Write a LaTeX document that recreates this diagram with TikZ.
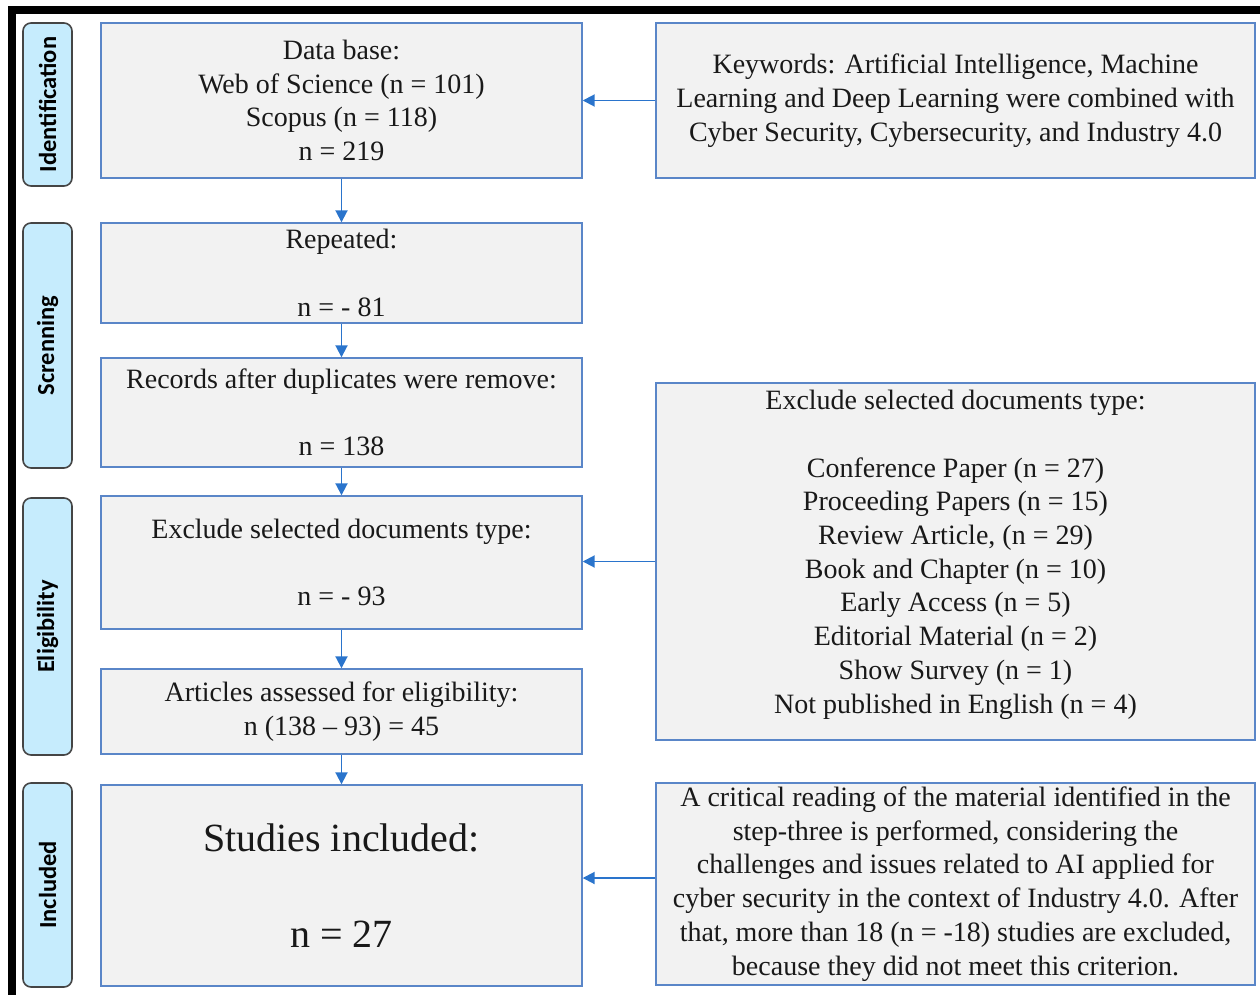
\documentclass[tikz,border=0pt]{standalone}
\usepackage{fontspec}
\setmainfont{Liberation Serif}
\newfontfamily\sidefont{Carlito}
\usetikzlibrary{arrows.meta,calc}
\definecolor{boxfill}{HTML}{F2F2F2}
\definecolor{boxline}{HTML}{5A86C8}
\definecolor{arrowblue}{HTML}{2A74CC}
\definecolor{sidefill}{HTML}{C6ECFD}
\definecolor{sideline}{HTML}{454545}
\tikzset{
  x=1pt, y=-1pt,
  box/.style={draw=boxline, fill=boxfill, line width=1.4pt, align=center, inner sep=0pt,
    font=\fontsize{28}{33.7}\selectfont, text=black!90},
  side/.style={draw=sideline, fill=sidefill, line width=1.6pt, rounded corners=8pt,
    minimum width=49pt, inner sep=0pt},
  sidetext/.style={font=\sidefont\bfseries\fontsize{24.5}{26}\selectfont, rotate=90},
  flow/.style={draw=arrowblue, line width=1.9pt, -{Triangle[length=12pt,width=12pt]}},
}
\begin{document}
\begin{tikzpicture}
\useasboundingbox (0,0) rectangle (1260,995);
% black frame (top and left)
\fill[black] (8,6) rectangle (1260,14);
\fill[black] (8,6) rectangle (16,995);

% side labels
\node[side, minimum height=163pt] (sid) at (47.5,104.5) {};
\node[sidetext] (sidt) at (sid) {Identification};
\node[side, minimum height=245pt] (sscr) at (47.5,345.5) {};
\node[sidetext] (sscrt) at (sscr) {Screnning};
\node[side, minimum height=257pt] (seli) at (47.5,626.5) {};
\node[sidetext] (selit) at (seli) {Eligibility};
\node[side, minimum height=204pt] (sinc) at (47.5,885) {};
\node[sidetext] (sinct) at (sinc) {Included};

% left column
\node[box, minimum width=481pt, minimum height=155pt] (b1) at (341.5,100.5)
  {Data base:\\Web of Science (n = 101)\\Scopus (n = 118)\\n = 219};
\node[box, minimum width=481pt, minimum height=100pt] (b2) at (341.5,273)
  {Repeated:\\[33.7pt]n = - 81};
\node[box, minimum width=481pt, minimum height=109pt] (b3) at (341.5,412.5)
  {Records after duplicates were remove:\\[33.7pt]n = 138};
\node[box, minimum width=481pt, minimum height=133pt] (b4) at (341.5,562.5)
  {Exclude selected documents type:\\[33.7pt]n = - 93};
\node[box, minimum width=481pt, minimum height=85pt] (b5) at (341.5,711.5)
  {Articles assessed for eligibility:\\n (138 – 93) = 45};
\node[box, minimum width=481pt, minimum height=201pt, font=\fontsize{40}{48}\selectfont] (b6) at (341.5,885.5)
  {Studies included:\\[48pt]n = 27};

% right column
\node[box, minimum width=599pt, minimum height=155pt] (r1) at (955.5,100.5)
  {Keywords: Artificial Intelligence, Machine\\Learning and Deep Learning were combined with\\Cyber Security, Cybersecurity, and Industry 4.0};
\node[box, minimum width=599pt, minimum height=357pt] (r2) at (955.5,561.5)
  {Exclude selected documents type:\\[33.7pt]Conference Paper (n = 27)\\Proceeding Papers (n = 15)\\Review Article, (n = 29)\\Book and Chapter (n = 10)\\Early Access (n = 5)\\Editorial Material (n = 2)\\Show Survey (n = 1)\\Not published in English (n = 4)\\[-14pt]\mbox{}};
\node[box, minimum width=599pt, minimum height=202pt] (r3) at (955.5,884)
  {A critical reading of the material identified in the\\step-three is performed, considering the\\challenges and issues related to AI applied for\\cyber security in the context of Industry 4.0. After\\that, more than 18 (n = -18) studies are excluded,\\because they did not meet this criterion.};

% connectors
\draw[flow] (b1) -- (b2);
\draw[flow] (b2) -- (b3);
\draw[flow] (b3) -- (b4);
\draw[flow] (b4) -- (b5);
\draw[flow] (b5) -- (b6);
\draw[flow] (r1.west) -- (r1.west -| b1.east);
\draw[flow] (r2.west) -- (r2.west -| b4.east);
\draw[flow] ($(r3.west)+(0,-6)$) -- ($(r3.west -| b6.east)+(0,-6)$);
\end{tikzpicture}
\end{document}
